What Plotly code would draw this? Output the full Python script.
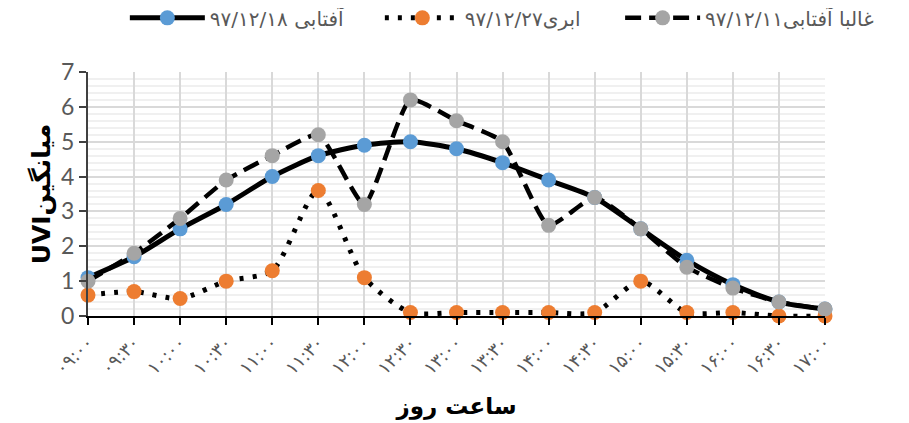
import plotly.graph_objects as go

categories = ["۰۹:۰۰", "۰۹:۳۰", "۱۰:۰۰", "۱۰:۳۰", "۱۱:۰۰", "۱۱:۳۰", "۱۲:۰۰", "۱۲:۳۰", "۱۳:۰۰",
              "۱۳:۳۰", "۱۴:۰۰", "۱۴:۳۰", "۱۵:۰۰", "۱۵:۳۰", "۱۶:۰۰", "۱۶:۳۰", "۱۷:۰۰"]
sunny_1218 = [1.1, 1.7, 2.5, 3.2, 4.0, 4.6, 4.9, 5.0, 4.8, 4.4, 3.9, 3.4, 2.5, 1.6, 0.9, 0.4, 0.2]
cloudy_1227 = [0.6, 0.7, 0.5, 1.0, 1.3, 3.6, 1.1, 0.1, 0.1, 0.1, 0.1, 0.1, 1.0, 0.1, 0.1, 0.0, 0.0]
mostly_sunny_1211 = [1.0, 1.8, 2.8, 3.9, 4.6, 5.2, 3.2, 6.2, 5.6, 5.0, 2.6, 3.4, 2.5, 1.4, 0.8, 0.4, 0.2]
series_names = ["آفتابی ۹۷/۱۲/۱۸", "ابری۹۷/۱۲/۲۷", "غالبا آفتابی۹۷/۱۲/۱۱"]
y_title = "UVIمیانگین"
x_title = "ساعت روز"

fig = go.Figure()
fig.add_trace(go.Scatter(x=categories, y=sunny_1218, name=series_names[0], mode="lines+markers",
                         line=dict(color="black", width=5, shape="spline", smoothing=0.7),
                         marker=dict(color="#5B9BD5", size=15), cliponaxis=False, legend="legend"))
fig.add_trace(go.Scatter(x=categories, y=cloudy_1227, name=series_names[1], mode="lines+markers",
                         line=dict(color="black", width=5, dash="4px,9px", shape="spline", smoothing=0.7),
                         marker=dict(color="#ED7D31", size=15), cliponaxis=False, legend="legend2"))
fig.add_trace(go.Scatter(x=categories, y=mostly_sunny_1211, name=series_names[2], mode="lines+markers",
                         line=dict(color="black", width=4.5, dash="16px,8px", shape="spline", smoothing=0.5),
                         marker=dict(color="#A5A5A5", size=15), cliponaxis=False, legend="legend3"))

legend_common = dict(orientation="h", xanchor="left", yref="paper", y=1.222, yanchor="middle",
                     font=dict(size=20, color="#595959", family="DejaVu Sans"),
                     itemwidth=75, bgcolor="rgba(0,0,0,0)")

fig.update_layout(
    width=909, height=423,
    margin=dict(l=80, r=92, t=64, b=115, autoexpand=False),
    paper_bgcolor="white", plot_bgcolor="white",
    font=dict(family="DejaVu Sans", color="#595959"),
    showlegend=True,
    legend=dict(x=0.05, **legend_common),
    legend2=dict(x=0.396, **legend_common),
    legend3=dict(x=0.722, **legend_common),
)
fig.update_xaxes(
    type="category", range=[0, 16], automargin=False,
    showgrid=True, gridcolor="#d9d9d9", gridwidth=2,
    showline=True, linecolor="black", linewidth=2,
    ticks="outside", ticklen=7, tickcolor="black", tickwidth=2,
    tickangle=-45, tickfont=dict(size=18, color="#595959", family="DejaVu Sans"),
    title=dict(text=x_title, font=dict(size=23, color="black", family="DejaVu Sans", weight="bold"), standoff=20),
    zeroline=False,
)
fig.update_yaxes(
    range=[0, 7], dtick=1, automargin=False,
    showgrid=True, gridcolor="#d9d9d9", gridwidth=2,
    minor=dict(dtick=0.2, showgrid=True, gridcolor="#f0f0f0", gridwidth=2),
    showline=True, linecolor="#404040", linewidth=2,
    ticks="outside", ticklen=7, tickcolor="#404040", tickwidth=2,
    tickfont=dict(size=23, color="#595959", family="Lato"),
    title=dict(text=y_title, font=dict(size=25, color="black", family="DejaVu Sans", weight="bold"), standoff=3),
    zeroline=False,
)

fig.write_html("out.html")
